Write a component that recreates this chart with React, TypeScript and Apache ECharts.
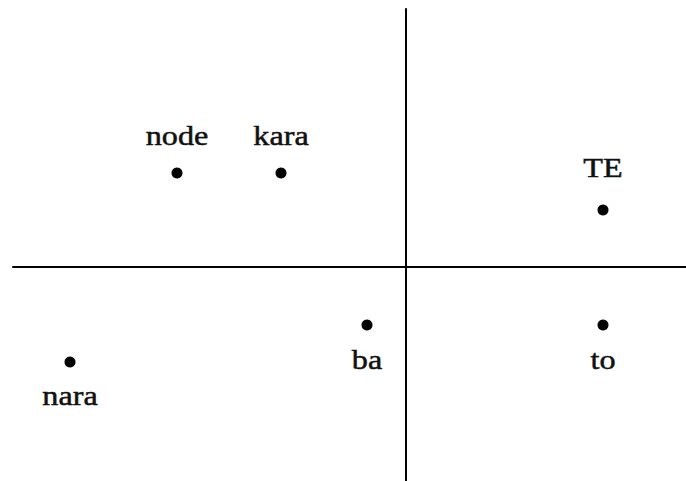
import React, { useEffect, useRef } from "react";
import * as echarts from "echarts";

const names = ["node", "kara", "TE", "ba", "to", "nara"];
const xValues = [-229, -125, 197, -39, 197, -336];
const yValues = [94, 94, 57, -58, -58, -95];
const labelShift = [-37, -37, -42, 35, 35, 34];

export default function App() {
  const ref = useRef<HTMLDivElement>(null);
  useEffect(() => {
    if (!ref.current) return;
    const chart = echarts.init(ref.current, null, { renderer: "svg" });
    const data = names.map((n, i) => ({ name: n, value: [xValues[i], yValues[i]] }));
    chart.setOption({
      animation: false,
      backgroundColor: "#ffffff",
      grid: { left: 13, right: 0, top: 9, bottom: 0 },
      xAxis: {
        type: "value",
        min: -393,
        max: 280,
        axisLine: { show: true, onZero: true, lineStyle: { color: "#000", width: 2 } },
        axisTick: { show: false },
        axisLabel: { show: false },
        splitLine: { show: false },
      },
      yAxis: {
        type: "value",
        min: -214,
        max: 258,
        axisLine: { show: true, onZero: true, lineStyle: { color: "#000", width: 2 } },
        axisTick: { show: false },
        axisLabel: { show: false },
        splitLine: { show: false },
      },
      series: [
        {
          type: "custom",
          coordinateSystem: "cartesian2d",
          data,
          renderItem: (params: any, api: any) => {
            const p = api.coord([api.value(0), api.value(1)]);
            const i = params.dataIndex;
            return {
              type: "group",
              children: [
                {
                  type: "circle",
                  shape: { cx: p[0], cy: p[1], r: 5.5 },
                  style: { fill: "#000" },
                },
                {
                  type: "text",
                  x: p[0],
                  y: p[1] + labelShift[i],
                  scaleX: 1.15,
                  style: {
                    text: names[i],
                    fontFamily: "'Liberation Serif', 'Times New Roman', serif",
                    fontSize: 28,
                    fill: "#111",
                    stroke: "#111",
                    lineWidth: 0.5,
                    align: "center",
                    verticalAlign: "middle",
                  },
                },
              ],
            };
          },
        },
      ],
    });
    return () => chart.dispose();
  }, []);
  return (
    <div
      ref={ref}
      style={{ position: "fixed", left: 0, top: 0, width: 686, height: 481, background: "#fff" }}
    />
  );
}
